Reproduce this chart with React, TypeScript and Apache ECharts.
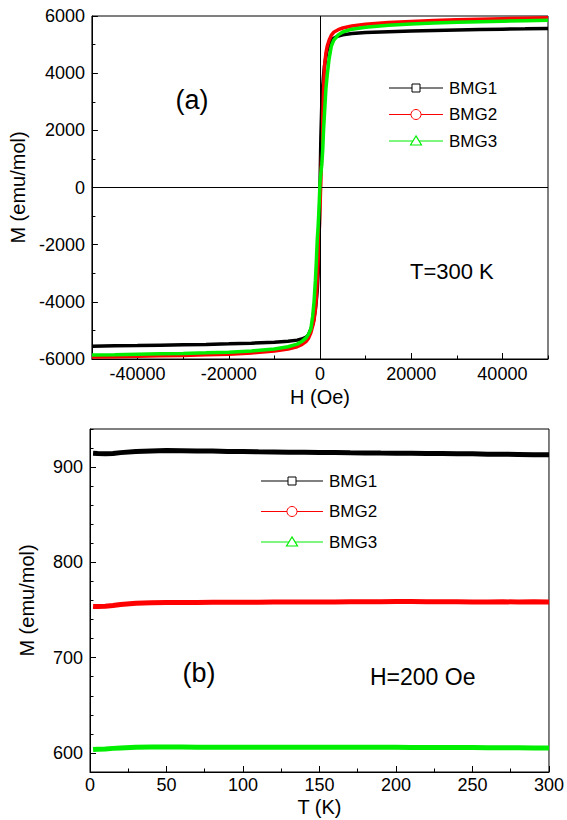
import React, { useEffect, useRef } from "react";
import * as echarts from "echarts";

const FONT = '"Liberation Sans", Arial, Helvetica, sans-serif';

// Panel (a): M vs H at T = 300 K
const fieldH = [
  -50000, -45000, -40000, -35000, -30000, -25000, -20000, -15000, -10000, -7000,
  -5000, -4000, -3000, -2500, -2000, -1600, -1300, -1000, -800, -600, -400, -200,
  0, 200, 400, 600, 800, 1000, 1300, 1600, 2000, 2500, 3000, 4000, 5000, 7000,
  10000, 15000, 20000, 25000, 30000, 35000, 40000, 45000, 50000,
];
const bmg1M = [
  -5550, -5540, -5530, -5515, -5500, -5490, -5470, -5445, -5410, -5380,
  -5340, -5300, -5230, -5150, -4960, -4800, -4560, -4250, -3950, -3600, -3000, -1900,
  -100, 1750, 2900, 3550, 3950, 4250, 4570, 4820, 5000, 5140, 5220, 5300, 5340, 5385,
  5420, 5450, 5475, 5495, 5510, 5525, 5540, 5550, 5565,
];
const bmg2M = [
  -5930, -5920, -5905, -5890, -5875, -5855, -5830, -5790, -5720, -5650,
  -5570, -5500, -5380, -5270, -5080, -4850, -4650, -4250, -3850, -3250, -2550, -1750,
  -700, 250, 1350, 2350, 3500, 4250, 4700, 4950, 5150, 5330, 5430, 5520, 5580, 5650,
  5710, 5770, 5810, 5840, 5865, 5885, 5905, 5920, 5935,
];
const bmg3M = [
  -5860, -5850, -5835, -5820, -5805, -5785, -5760, -5720, -5650, -5570,
  -5480, -5390, -5250, -5130, -4950, -4500, -4000, -3250, -2600, -1850, -1350, -700,
  150, 500, 800, 1300, 2050, 2600, 3450, 3950, 4500, 4950, 5150, 5340, 5440, 5540,
  5610, 5680, 5720, 5755, 5780, 5800, 5820, 5835, 5850,
];
const hLabelValues = [-40000, -20000, 0, 20000, 40000];

// Panel (b): M vs T at H = 200 Oe
const tempT = [
  2, 5, 10, 15, 20, 30, 40, 50, 60, 70, 80, 90, 100, 110, 120, 130, 140, 150, 160,
  170, 180, 190, 200, 210, 220, 230, 240, 250, 260, 270, 280, 290, 300,
];
const bmg1T = [
  914.5, 914.2, 914.0, 914.3, 915.2, 916.3, 917.0, 917.4, 917.2, 916.9, 916.8, 916.5,
  916.4, 916.1, 915.9, 915.6, 915.5, 915.3, 915.3, 915.0, 914.9, 914.7, 914.6, 914.5,
  914.3, 914.2, 914.0, 913.9, 913.6, 913.5, 913.3, 913.1, 912.9,
];
const bmg2T = [
  753.8, 753.6, 753.9, 754.8, 755.8, 757.0, 757.6, 757.8, 758.0, 758.0, 758.1, 758.1,
  758.1, 758.2, 758.3, 758.3, 758.4, 758.4, 758.5, 758.6, 758.7, 758.8, 758.9, 758.9,
  758.8, 758.7, 758.6, 758.5, 758.5, 758.6, 758.5, 758.6, 758.5,
];
const bmg3T = [
  603.5, 603.8, 604.2, 604.8, 605.3, 605.9, 606.2, 606.3, 606.2, 606.1, 606.0, 606.0,
  605.9, 605.9, 605.9, 605.9, 605.9, 606.0, 606.0, 605.9, 605.9, 605.9, 605.9, 605.8,
  605.8, 605.7, 605.6, 605.6, 605.5, 605.5, 605.4, 605.3, 605.2,
];
const mLabelValues = [600, 700, 800, 900];

const seriesNames = ["BMG1", "BMG2", "BMG3"];
const seriesColors = ["#000000", "#ff0000", "#00ee00"];
const seriesSymbols = ["emptyRect", "emptyCircle", "emptyTriangle"];

const pairs = (xs: number[], ys: number[]) => xs.map((x, i) => [x, ys[i]]);

// legend drawn as graphic: line + hollow marker + name
function legendGraphics(x0: number, x1: number, ys: number[]) {
  const out: any[] = [];
  const mx = (x0 + x1) / 2;
  ys.forEach((y, i) => {
    const c = seriesColors[i];
    out.push({ type: "line", shape: { x1: x0, y1: y, x2: x1, y2: y }, style: { stroke: c, lineWidth: 1 }, z: 50 });
    if (i === 0) {
      out.push({ type: "rect", shape: { x: mx - 4, y: y - 4, width: 8, height: 8 }, style: { stroke: c, fill: "#fff", lineWidth: 1 }, z: 51 });
    } else if (i === 1) {
      out.push({ type: "circle", shape: { cx: mx, cy: y, r: 5 }, style: { stroke: c, fill: "#fff", lineWidth: 1 }, z: 51 });
    } else {
      out.push({ type: "polygon", shape: { points: [[mx, y - 5], [mx - 5.5, y + 4], [mx + 5.5, y + 4]] }, style: { stroke: c, fill: "#fff", lineWidth: 1.2 }, z: 51 });
    }
    out.push({ type: "text", x: x1 + 6, y, style: { text: seriesNames[i], fill: "#000", fontSize: 17, fontFamily: FONT, align: "left", verticalAlign: "middle" }, z: 51 });
  });
  return out;
}

export default function App() {
  const ref = useRef<HTMLDivElement>(null);
  useEffect(() => {
    if (!ref.current) return;
    const chart = echarts.init(ref.current, null, { renderer: "svg" });
    const black = "#000";
    const plain = (v: number) => String(v);
    const labelStyle = { color: black, fontSize: 18, fontFamily: FONT, formatter: plain };
    const nameStyle = { color: black, fontSize: 20, fontFamily: FONT };
    const topData = [bmg1M, bmg2M, bmg3M];
    const botData = [bmg1T, bmg2T, bmg3T];
    const majorLen = 6;
    const minorLen = 3.5;

    const topSeries = topData.map((d, i) => ({
      type: "line",
      name: seriesNames[i],
      xAxisIndex: 0,
      yAxisIndex: 0,
      data: pairs(fieldH, d),
      symbol: seriesSymbols[i],
      symbolSize: 3,
      showSymbol: false,
      color: seriesColors[i],
      lineStyle: { color: seriesColors[i], width: 3.5 },
      itemStyle: { color: seriesColors[i], borderWidth: 1 },
      z: 3 + i,
      markLine:
        i === 0
          ? {
              silent: true,
              symbol: "none",
              label: { show: false },
              lineStyle: { color: black, width: 1, type: "solid" },
              data: [{ xAxis: 0 }, { yAxis: 0 }],
            }
          : undefined,
    }));
    const botSeries = botData.map((d, i) => ({
      type: "line",
      name: seriesNames[i],
      xAxisIndex: 2,
      yAxisIndex: 2,
      data: pairs(tempT, d),
      symbol: seriesSymbols[i],
      symbolSize: 4,
      showSymbol: false,
      color: seriesColors[i],
      lineStyle: { color: seriesColors[i], width: 5 },
      itemStyle: { color: seriesColors[i], borderWidth: 1 },
      z: 3 + i,
    }));

    chart.setOption({
      animation: false,
      backgroundColor: "#fff",
      textStyle: { fontFamily: FONT },
      grid: [
        { left: 90, top: 16, width: 458, height: 343, show: true, borderColor: black, borderWidth: 1, backgroundColor: "transparent" },
        { left: 90, top: 429, width: 461, height: 343, show: true, borderColor: black, borderWidth: 1, backgroundColor: "transparent" },
      ],
      xAxis: [
        {
          gridIndex: 0,
          type: "value",
          position: "bottom",
          min: -50000,
          max: 50000,
          interval: 10000,
          name: "H (Oe)",
          nameLocation: "middle",
          nameGap: 28,
          nameTextStyle: nameStyle,
          axisLine: { show: true, onZero: false, lineStyle: { color: black, width: 1 } },
          axisTick: { show: true, inside: true, length: majorLen, customValues: hLabelValues, lineStyle: { color: black } },
          axisLabel: { ...labelStyle, margin: 6, customValues: hLabelValues },
          splitLine: { show: false },
        },
        {
          gridIndex: 0,
          type: "value",
          position: "bottom",
          offset: 0,
          min: -50000,
          max: 50000,
          interval: 10000,
          axisLine: { show: false, onZero: false },
          axisTick: { show: true, inside: true, length: minorLen, lineStyle: { color: black } },
          axisLabel: { show: false },
          splitLine: { show: false },
        },
        {
          gridIndex: 1,
          type: "value",
          position: "bottom",
          min: 0,
          max: 300,
          interval: 50,
          name: "T (K)",
          nameLocation: "middle",
          nameGap: 25,
          nameTextStyle: nameStyle,
          axisLine: { show: true, onZero: false, lineStyle: { color: black, width: 1 } },
          axisTick: { show: true, inside: true, length: majorLen, lineStyle: { color: black } },
          minorTick: { show: true, splitNumber: 2, length: minorLen, lineStyle: { color: black } },
          axisLabel: { ...labelStyle, margin: 4 },
          splitLine: { show: false },
        },
      ],
      yAxis: [
        {
          gridIndex: 0,
          type: "value",
          position: "left",
          min: -6000,
          max: 6000,
          interval: 2000,
          name: "M (emu/mol)",
          nameLocation: "middle",
          nameGap: 53,
          nameRotate: 90,
          nameTextStyle: nameStyle,
          axisLine: { show: true, onZero: false, lineStyle: { color: black, width: 1 } },
          axisTick: { show: true, inside: true, length: majorLen, lineStyle: { color: black } },
          minorTick: { show: true, splitNumber: 2, length: minorLen, lineStyle: { color: black } },
          axisLabel: { ...labelStyle, margin: 7 },
          splitLine: { show: false },
        },
        {
          gridIndex: 0,
          type: "value",
          show: false,
          min: -6000,
          max: 6000,
        },
        {
          gridIndex: 1,
          type: "value",
          position: "left",
          min: 580,
          max: 940,
          interval: 20,
          name: "M (emu/mol)",
          nameLocation: "middle",
          nameGap: 53,
          nameRotate: 90,
          nameTextStyle: nameStyle,
          axisLine: { show: true, onZero: false, lineStyle: { color: black, width: 1 } },
          axisTick: { show: true, inside: true, length: majorLen, customValues: mLabelValues, lineStyle: { color: black } },
          axisLabel: { ...labelStyle, margin: 7, customValues: mLabelValues },
          splitLine: { show: false },
        },
        {
          gridIndex: 1,
          type: "value",
          position: "left",
          offset: 0,
          min: 580,
          max: 940,
          interval: 20,
          axisLine: { show: false, onZero: false },
          axisTick: { show: true, inside: true, length: minorLen, lineStyle: { color: black } },
          axisLabel: { show: false },
          splitLine: { show: false },
        },
      ],
      graphic: [
        ...legendGraphics(389, 443, [88, 114.5, 141]),
        ...legendGraphics(261, 323, [481, 511.5, 542]),
        { type: "text", x: 192, y: 100, style: { text: "(a)", fill: black, fontSize: 27, fontFamily: FONT, align: "center", verticalAlign: "middle" } },
        { type: "text", x: 410, y: 271, style: { text: "T=300 K", fill: black, fontSize: 22, fontFamily: FONT, align: "left", verticalAlign: "middle" } },
        { type: "text", x: 199, y: 673, style: { text: "(b)", fill: black, fontSize: 27, fontFamily: FONT, align: "center", verticalAlign: "middle" } },
        { type: "text", x: 370, y: 677, style: { text: "H=200 Oe", fill: black, fontSize: 23, fontFamily: FONT, align: "left", verticalAlign: "middle" } },
      ],
      series: [...topSeries, ...botSeries],
    });
    return () => chart.dispose();
  }, []);
  return (
    <div
      ref={ref}
      style={{ position: "absolute", left: 0, top: 0, width: 567, height: 820 }}
    />
  );
}
